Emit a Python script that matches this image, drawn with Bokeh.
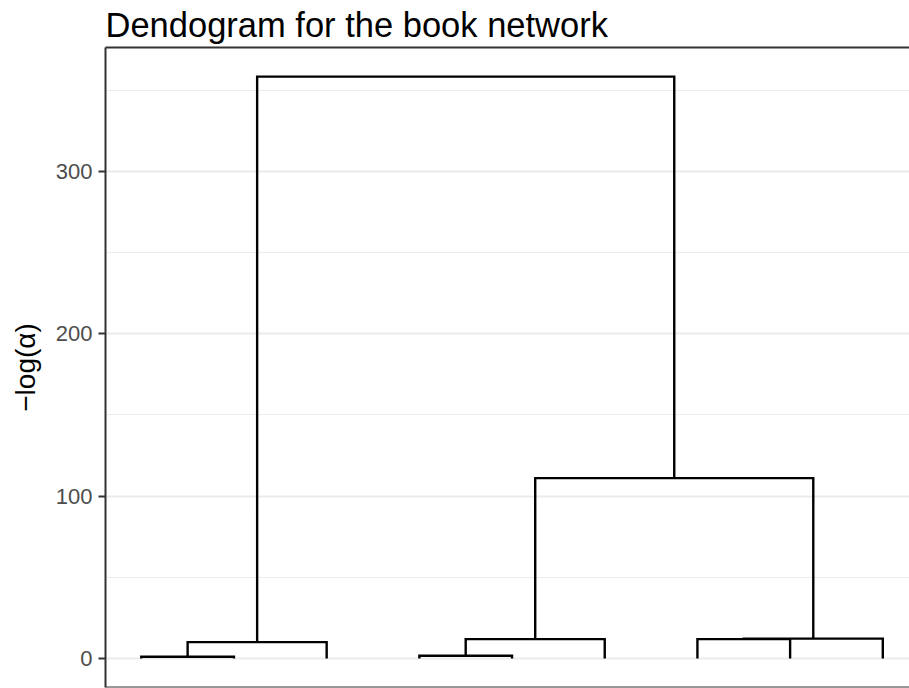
from bokeh.plotting import figure
from bokeh.models import LinearAxis, FixedTicker, Range1d, ColumnDataSource, Span
from bokeh.embed import file_html
from bokeh.resources import INLINE

# ---- data (hclust-like merge table; negative = leaf, positive = earlier merge) ----
leaf_order = [1, 2, 3, 4, 5, 6, 7, 8, 9]
merge_left = [-1, -4, 1, 2, -7, 5, 4, 3]
merge_right = [-2, -5, -3, -6, -8, -9, 6, 7]
merge_height = [1.0, 1.6, 10.0, 11.9, 11.9, 12.2, 111.0, 358.3]
y_ticks = [0, 100, 200, 300]
y_minor = [50, 150, 250, 350]

# ---- build dendrogram links from the merge table ----
pos = {}
hgt = {}
for i, leaf in enumerate(leaf_order):
    pos[-leaf] = float(i + 1)
    hgt[-leaf] = 0.0
xs, ys = [], []
for k, (a, b, h) in enumerate(zip(merge_left, merge_right, merge_height), start=1):
    xa, xb = pos[a], pos[b]
    xs.append([xa, xa, xb, xb])
    ys.append([hgt[a], h, h, hgt[b]])
    pos[k] = (xa + xb) / 2.0
    hgt[k] = h

src = ColumnDataSource(dict(xs=xs, ys=ys))

n = len(leaf_order)
ymax = max(merge_height)
Y0, Y1 = -0.05 * ymax, 1.05 * ymax
p = figure(width=909, height=688, output_backend="svg", toolbar_location=None,
           x_range=Range1d(0.614, 9.288),
           y_range=Range1d(Y0, Y1),
           x_axis_location=None,
           min_border_left=105, min_border_right=0, min_border_top=40, min_border_bottom=1,
           title="Dendogram for the book network")
p.outline_line_color = None
p.background_fill_color = "white"
p.border_fill_color = "white"

p.multi_line(xs="xs", ys="ys", source=src, line_color="black", line_width=2.4,
             line_join="miter", line_cap="butt")

# title
p.title.text_font = "Liberation Sans"
p.title.text_font_size = "34.5px"
p.title.text_font_style = "normal"
p.title.text_color = "black"
p.title.align = "left"
p.title.offset = 0
p.title.standoff = 7

# y axis
ya = p.yaxis[0]
ya.ticker = FixedTicker(ticks=y_ticks, minor_ticks=y_minor)
ya.axis_label = "\u2212log(\u03b1)"
ya.axis_label_text_font = "Liberation Sans"
ya.axis_label_text_font_size = "28px"
ya.axis_label_text_font_style = "normal"
ya.axis_label_text_color = "black"
ya.axis_label_standoff = 12
ya.major_label_text_font = "Liberation Sans"
ya.major_label_text_font_size = "22px"
ya.major_label_text_color = "#4D4D4D"
ya.major_label_standoff = 6
ya.major_tick_out = 7
ya.major_tick_in = 0
ya.minor_tick_out = 0
ya.minor_tick_in = 0
ya.major_tick_line_color = "#333333"
ya.major_tick_line_width = 2
ya.axis_line_color = "#333333"
ya.axis_line_width = 2

# top axis as panel border
ta = LinearAxis(ticker=FixedTicker(ticks=[]), major_label_text_font_size="0px",
                major_label_standoff=0, axis_label_standoff=0,
                major_tick_out=0, major_tick_in=0,
                minor_tick_out=0, minor_tick_in=0,
                axis_line_color="#333333", axis_line_width=2)
p.add_layout(ta, "above")

# bottom panel border
p.add_layout(Span(location=Y0, dimension="width", line_color="#333333", line_width=2))

# grid
p.xgrid.grid_line_color = None
p.ygrid.grid_line_color = "#EBEBEB"
p.ygrid.grid_line_width = 2
p.ygrid.minor_grid_line_color = "#EBEBEB"
p.ygrid.minor_grid_line_width = 1
p.ygrid.level = "underlay"

open("out.html", "w").write(file_html(p, INLINE))
